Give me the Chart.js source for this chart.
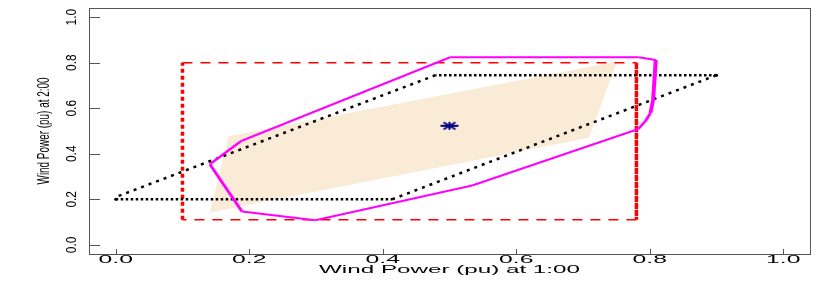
<!DOCTYPE html>
<html lang="en">
<head>
    <meta charset="UTF-8">
    <title>Wind Power 1:00 vs 2:00</title>
    <script src="https://cdn.jsdelivr.net/npm/chart.js"></script>
    <style>
        body { margin: 0; background: #fff; }
        #wrap { width: 830px; height: 289px; }
    </style>
</head>
<body>
    <div id="wrap"><canvas id="windChart"></canvas></div>

    <script>
        // axis ticks
        const xTicks = [0, 0.2, 0.4, 0.6, 0.8, 1.0];
        const yTicks = [0, 0.2, 0.4, 0.6, 0.8, 1.0];
        const xTickLabels = ["0.0", "0.2", "0.4", "0.6", "0.8", "1.0"];
        const yTickLabels = ["0.0", "0.2", "0.4", "0.6", "0.8", "1.0"];
        const xTitle = "Wind Power (pu) at 1:00";
        const yTitle = "Wind Power (pu) at 2:00";

        // shaded region (beige)
        const regionX = [0.141, 0.169, 0.751, 0.709, 0.141];
        const regionY = [0.142, 0.477, 0.805, 0.470, 0.142];

        // red box bounds
        const boxX = [0.10, 0.78, 0.78, 0.10, 0.10];
        const boxY = [0.80, 0.80, 0.11, 0.11, 0.80];

        // black dotted parallelogram
        const paraX = [0, 0.414, 0.90, 0.479, 0];
        const paraY = [0.20, 0.20, 0.745, 0.745, 0.21];

        // magenta hull
        const hullX = [0.501, 0.783, 0.809, 0.805, 0.801, 0.793, 0.783, 0.534, 0.299, 0.189, 0.141, 0.188, 0.501];
        const hullY = [0.824, 0.824, 0.812, 0.637, 0.578, 0.542, 0.509, 0.261, 0.108, 0.147, 0.354, 0.456, 0.824];

        // forecast point
        const centerX = [0.5];
        const centerY = [0.523];

        function toPts(xs, ys) {
            return xs.map((x, i) => ({ x: x, y: ys[i] }));
        }

        // line looks thicker when steep (squashed figure)
        function penWidth(ctx, wH, wV) {
            const dx = ctx.p1.x - ctx.p0.x, dy = ctx.p1.y - ctx.p0.y;
            const len = Math.hypot(dx, dy) || 1;
            const c = Math.abs(dx) / len, s = Math.abs(dy) / len;
            return wH * wV / Math.hypot(wV * c, wH * s);
        }
        function isVertical(ctx) {
            return Math.abs(ctx.p1.x - ctx.p0.x) < Math.abs(ctx.p1.y - ctx.p0.y);
        }

        // asterisk marker
        const star = document.createElement("canvas");
        star.width = 20; star.height = 10;
        (function () {
            const c = star.getContext("2d");
            c.strokeStyle = "#000080";
            c.lineWidth = 2;
            c.beginPath();
            c.moveTo(1, 5); c.lineTo(19, 5);
            c.moveTo(10, 1); c.lineTo(10, 9);
            c.moveTo(4, 1.5); c.lineTo(16, 8.5);
            c.moveTo(4, 8.5); c.lineTo(16, 1.5);
            c.stroke();
        })();

        function stretchText(ctx, text, x, y, sx, rot, font) {
            ctx.save();
            ctx.translate(x, y);
            ctx.rotate(rot);
            ctx.scale(sx, 1);
            ctx.font = font;
            ctx.fillStyle = "#000";
            ctx.textAlign = "center";
            ctx.textBaseline = "middle";
            ctx.fillText(text, 0, 0);
            ctx.restore();
        }

        const axisPlugin = {
            id: "rAxes",
            beforeDatasetsDraw(chart) {
                const ctx = chart.ctx, a = chart.chartArea;
                const xs = chart.scales.x, ys = chart.scales.y;
                ctx.save();
                ctx.strokeStyle = "#555";
                ctx.lineWidth = 1;
                ctx.beginPath();
                xTicks.forEach(v => {
                    const px = Math.round(xs.getPixelForValue(v)) + 0.5;
                    ctx.moveTo(px, a.bottom); ctx.lineTo(px, a.bottom - 5);
                });
                yTicks.forEach(v => {
                    const py = Math.round(ys.getPixelForValue(v)) + 0.5;
                    ctx.moveTo(a.left, py); ctx.lineTo(a.left + 11, py);
                });
                ctx.stroke();
                ctx.restore();
            },
            afterDraw(chart) {
                const ctx = chart.ctx, a = chart.chartArea;
                const xs = chart.scales.x, ys = chart.scales.y;
                ctx.save();
                ctx.strokeStyle = "#555";
                ctx.lineWidth = 1;
                ctx.strokeRect(a.left + 0.5, a.top + 0.5, a.right - a.left, a.bottom - a.top);
                ctx.restore();
                xTicks.forEach((v, i) => {
                    stretchText(ctx, xTickLabels[i], xs.getPixelForValue(v), a.bottom + 6, 2.25, 0, '11px "Liberation Sans"');
                });
                yTicks.forEach((v, i) => {
                    stretchText(ctx, yTickLabels[i], 72, ys.getPixelForValue(v), 0.85, -Math.PI / 2, '14px "Liberation Sans"');
                });
                stretchText(ctx, xTitle, (a.left + a.right) / 2, a.bottom + 16, 2.2, 0, '11px "Liberation Sans"');
                stretchText(ctx, yTitle, 45, (a.top + a.bottom) / 2, 0.62, -Math.PI / 2, '16px "Liberation Sans"');
            }
        };

        new Chart(document.getElementById("windChart"), {
            type: "scatter",
            data: {
                datasets: [
                    {
                        data: toPts(regionX, regionY),
                        showLine: true,
                        fill: "shape",
                        backgroundColor: "#FAEBD7",
                        borderWidth: 0,
                        pointRadius: 0,
                        order: 5
                    },
                    {
                        data: toPts(boxX, boxY),
                        showLine: true,
                        borderColor: "#FF0000",
                        pointRadius: 0,
                        segment: {
                            borderWidth: ctx => isVertical(ctx) ? 3.5 : 1.5,
                            borderDash: ctx => isVertical(ctx) ? [4, 3] : [10, 8]
                        },
                        order: 4
                    },
                    {
                        data: toPts(paraX, paraY),
                        showLine: true,
                        borderColor: "#000",
                        borderWidth: 2.5,
                        pointRadius: ctx => (ctx.dataIndex === 0 || ctx.dataIndex === 2) ? 1.5 : 0,
                        pointBackgroundColor: "#000",
                        pointBorderWidth: 0,
                        segment: {
                            borderDash: ctx => Math.abs(ctx.p1.y - ctx.p0.y) < 1 ? [2.5, 2.5] : [3, 5]
                        },
                        order: 3
                    },
                    {
                        data: toPts(hullX, hullY),
                        showLine: true,
                        borderColor: "#FF00FF",
                        pointRadius: 0,
                        borderJoinStyle: "round",
                        segment: {
                            borderWidth: ctx => penWidth(ctx, 2, 4)
                        },
                        order: 2
                    },
                    {
                        data: toPts(centerX, centerY),
                        pointStyle: star,
                        pointRadius: 5,
                        order: 1
                    }
                ]
            },
            options: {
                responsive: true,
                maintainAspectRatio: false,
                animation: false,
                layout: { padding: { top: 8, right: 20, left: 0, bottom: 0 } },
                plugins: {
                    legend: { display: false },
                    tooltip: { enabled: false }
                },
                scales: {
                    x: {
                        type: "linear",
                        min: -0.04,
                        max: 1.04,
                        grid: { display: false },
                        border: { display: false },
                        ticks: { display: false },
                        afterBuildTicks: s => { s.ticks = xTicks.map(v => ({ value: v })); },
                        afterFit: s => { s.height = 35; }
                    },
                    y: {
                        type: "linear",
                        min: -0.04,
                        max: 1.04,
                        grid: { display: false },
                        border: { display: false },
                        ticks: { display: false },
                        afterBuildTicks: s => { s.ticks = yTicks.map(v => ({ value: v })); },
                        afterFit: s => { s.width = 89; }
                    }
                }
            },
            plugins: [axisPlugin]
        });
    </script>
</body>
</html>
